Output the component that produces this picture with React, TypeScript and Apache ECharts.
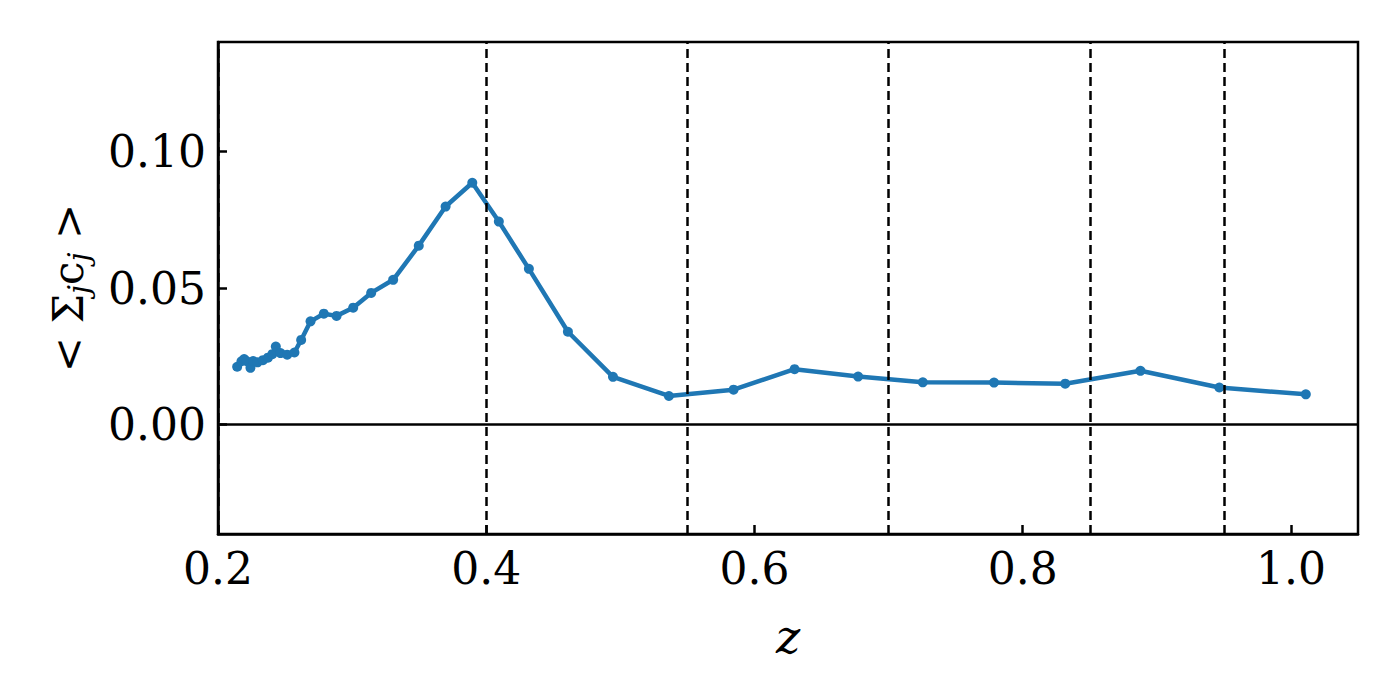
import React, { useEffect, useRef } from "react";
import * as echarts from "echarts";

const zValues = [
  0.2143, 0.2175, 0.2195, 0.2215, 0.2242, 0.2262, 0.2295, 0.2335, 0.2372, 0.2405,
  0.2431, 0.2466, 0.2516, 0.2570, 0.2620, 0.2690, 0.2789, 0.2884, 0.3008, 0.3142,
  0.3306, 0.3497, 0.3697, 0.3896, 0.4094, 0.4318, 0.4609, 0.4945, 0.5362, 0.5844,
  0.6299, 0.6773, 0.7255, 0.7786, 0.8317, 0.8878, 0.9466, 1.0111,
];
const sumC = [
  0.0212, 0.0232, 0.0240, 0.0232, 0.0208, 0.0233, 0.0228, 0.0236, 0.0245, 0.0258,
  0.0286, 0.0262, 0.0256, 0.0264, 0.0310, 0.0378, 0.0406, 0.0398, 0.0428, 0.0482,
  0.0530, 0.0655, 0.0798, 0.0885, 0.0743, 0.0570, 0.0340, 0.0175, 0.0105, 0.0128,
  0.0203, 0.0176, 0.0155, 0.0154, 0.0150, 0.0197, 0.0136, 0.0111,
];
const dashedZ = [0.2, 0.4, 0.55, 0.7, 0.85, 0.95];
const xTicks = [0.2, 0.4, 0.6, 0.8, 1.0];
const yTicks = [0.0, 0.05, 0.1];

const FONT = "DejaVu Serif";

export default function App() {
  const ref = useRef<HTMLDivElement>(null);
  useEffect(() => {
    if (!ref.current) return;
    const chart = echarts.init(ref.current, null, { renderer: "svg" });
    chart.setOption({
      animation: false,
      backgroundColor: "#fff",
      grid: {
        left: 218,
        right: 42,
        top: 42,
        bottom: 166,
        show: true,
        borderColor: "#000",
        borderWidth: 2.5,
        backgroundColor: "transparent",
      },
      xAxis: {
        type: "value",
        min: 0.2,
        max: 1.05,
        axisLine: { show: true, onZero: false, lineStyle: { color: "#000", width: 2.5 } },
        axisTick: {
          show: true,
          inside: true,
          length: 9,
          customValues: xTicks,
          lineStyle: { color: "#000", width: 2.5 },
        },
        axisLabel: {
          customValues: xTicks,
          formatter: (v: number) => v.toFixed(1),
          fontFamily: FONT,
          fontSize: 44,
          color: "#000",
          margin: 12,
        },
        splitLine: { show: false },
        name: "z",
        nameLocation: "middle",
        nameGap: 80,
        nameTextStyle: { fontFamily: FONT, fontSize: 46, fontStyle: "italic", color: "#000" },
      },
      yAxis: {
        type: "value",
        min: -0.04,
        max: 0.14,
        axisLine: { show: true, onZero: false, lineStyle: { color: "#000", width: 2.5 } },
        axisTick: {
          show: true,
          inside: true,
          length: 9,
          customValues: yTicks,
          lineStyle: { color: "#000", width: 2.5 },
        },
        axisLabel: {
          customValues: yTicks,
          formatter: (v: number) => v.toFixed(2),
          fontFamily: FONT,
          fontSize: 44,
          color: "#000",
          margin: 12,
        },
        splitLine: { show: false },
      },
      graphic: [
        {
          type: "text",
          x: 68,
          y: 288,
          rotation: Math.PI / 2,
          style: {
            text: "{n|< Σ}{s|j}{n|c}{s|j}{n| >}",
            align: "center",
            verticalAlign: "middle",
            rich: {
              n: { fontFamily: FONT, fontSize: 42, fill: "#000", lineHeight: 50 },
              s: {
                fontFamily: FONT,
                fontSize: 29,
                fontStyle: "italic",
                fill: "#000",
                lineHeight: 50,
                verticalAlign: "bottom",
                padding: [14, 0, 0, 0],
              },
            },
          },
        },
      ],
      series: [
        {
          type: "line",
          data: zValues.map((z, i) => [z, sumC[i]]),
          symbol: "circle",
          symbolSize: 10,
          itemStyle: { color: "#1f77b4" },
          lineStyle: { color: "#1f77b4", width: 4.5 },
          z: 3,
          markLine: {
            silent: true,
            symbol: "none",
            label: { show: false },
            data: [
              ...dashedZ.map((x) => ({
                xAxis: x,
                lineStyle: { color: "#000", width: 2.5, type: [9, 5] },
              })),
              { yAxis: 0, lineStyle: { color: "#000", width: 2.5, type: "solid" } },
            ],
          },
        },
      ],
    });
    return () => chart.dispose();
  }, []);
  return (
    <div
      ref={ref}
      style={{ position: "fixed", left: 0, top: 0, width: 1400, height: 700, background: "#fff" }}
    />
  );
}
